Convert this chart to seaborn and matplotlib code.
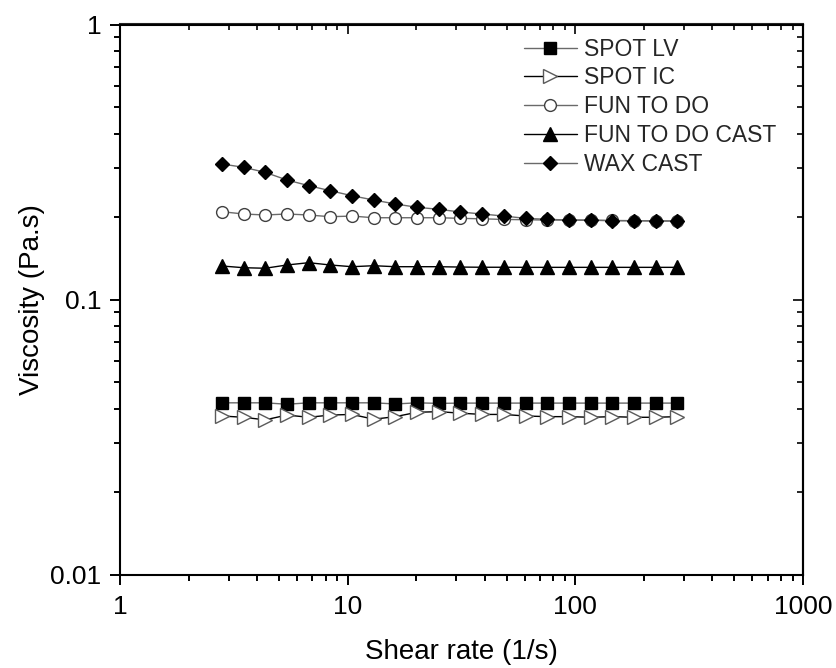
import matplotlib
matplotlib.use("Agg")
import matplotlib.pyplot as plt
import seaborn as sns
import pandas as pd
from matplotlib.ticker import NullFormatter, FixedLocator, LogLocator

# ---------------- data ----------------
shear_rate = [2.80, 3.49, 4.34, 5.41, 6.74, 8.39, 10.45, 13.01, 16.20, 20.18, 25.13,
              31.30, 38.98, 48.54, 60.45, 75.29, 93.77, 116.8, 145.4, 181.1, 225.5, 280.9]

spot_lv = [0.0421, 0.0421, 0.0421, 0.0416, 0.0421, 0.0421, 0.0421, 0.0421, 0.0417, 0.0421, 0.0419,
           0.0420, 0.0420, 0.0420, 0.0420, 0.0420, 0.0420, 0.0420, 0.0420, 0.0420, 0.0420, 0.0420]
spot_ic = [0.0377, 0.0373, 0.0365, 0.0380, 0.0373, 0.0380, 0.0382, 0.0367, 0.0375, 0.0389, 0.0391,
           0.0386, 0.0382, 0.0382, 0.0377, 0.0375, 0.0375, 0.0373, 0.0375, 0.0373, 0.0373, 0.0375]
fun_to_do = [0.2086, 0.2046, 0.2029, 0.2046, 0.2029, 0.2000, 0.2011, 0.1983, 0.1983, 0.1983, 0.1983,
             0.1973, 0.1965, 0.1955, 0.1950, 0.1945, 0.1945, 0.1940, 0.1938, 0.1935, 0.1932, 0.1930]
fun_to_do_cast = [0.1324, 0.1305, 0.1299, 0.1335, 0.1361, 0.1335, 0.1316, 0.1327, 0.1316, 0.1316, 0.1316,
                  0.1312, 0.1310, 0.1310, 0.1309, 0.1309, 0.1309, 0.1309, 0.1309, 0.1309, 0.1309, 0.1309]
wax_cast = [0.311, 0.3025, 0.290, 0.272, 0.2594, 0.2486, 0.2384, 0.2300, 0.2225, 0.2164, 0.2128,
            0.2080, 0.2046, 0.2011, 0.1973, 0.1957, 0.1945, 0.1945, 0.1934, 0.1934, 0.1929, 0.1929]

series_names = ["SPOT LV", "SPOT IC", "FUN TO DO", "FUN TO DO CAST", "WAX CAST"]
series_values = [spot_lv, spot_ic, fun_to_do, fun_to_do_cast, wax_cast]

x_ticks = [1, 10, 100, 1000]
x_tick_labels = ["1", "10", "100", "1000"]
y_ticks = [0.01, 0.1, 1]
y_tick_labels = ["0.01", "0.1", "1"]

# ---------------- style ----------------
sns.set_theme(style="ticks")
plt.rcParams["font.family"] = ["Liberation Sans", "DejaVu Sans"]

styles = {
    "SPOT LV":        dict(marker="s", markersize=8.0, markerfacecolor="black", markeredgecolor="black", color="#6a6a6a"),
    "SPOT IC":        dict(marker=">", markersize=9.5, markerfacecolor="white", markeredgecolor="#5a5a5a", color="black"),
    "FUN TO DO":      dict(marker="o", markersize=8.5, markerfacecolor="white", markeredgecolor="#404040", color="#6a6a6a"),
    "FUN TO DO CAST": dict(marker="^", markersize=9.5, markerfacecolor="black", markeredgecolor="black", color="black"),
    "WAX CAST":       dict(marker="D", markersize=7.0, markerfacecolor="black", markeredgecolor="black", color="#6a6a6a"),
}

fig = plt.figure(figsize=(8.37, 6.68), dpi=100)
ax = fig.add_axes([120 / 837, 1 - 574.5 / 668, 683 / 837, 550 / 668])

for name, vals in zip(series_names, series_values):
    df = pd.DataFrame({"x": shear_rate, "y": vals})
    sns.lineplot(data=df, x="x", y="y", ax=ax, estimator=None, sort=False,
                 linewidth=1.0, markeredgewidth=1.0, label=name, **styles[name])

ax.set_xscale("log")
ax.set_yscale("log")
ax.set_xlim(1, 1000)
ax.set_ylim(0.01, 1)

ax.xaxis.set_major_locator(FixedLocator(x_ticks))
ax.set_xticklabels(x_tick_labels)
ax.yaxis.set_major_locator(FixedLocator(y_ticks))
ax.set_yticklabels(y_tick_labels)
ax.xaxis.set_minor_locator(LogLocator(base=10, subs=range(2, 10), numticks=20))
ax.yaxis.set_minor_locator(LogLocator(base=10, subs=range(2, 10), numticks=20))
ax.xaxis.set_minor_formatter(NullFormatter())
ax.yaxis.set_minor_formatter(NullFormatter())

for s in ax.spines.values():
    s.set_visible(True)
    s.set_linewidth(1.5)
    s.set_color("black")

ax.tick_params(which="major", direction="out", length=7.5, width=1.4, color="black",
               labelsize=19, labelcolor="black")
ax.tick_params(which="minor", direction="out", length=4, width=1.4, color="black")
ax.tick_params(axis="x", which="major", pad=7)
ax.tick_params(axis="y", which="major", pad=6)

# top and right axes with inward ticks
secx = ax.secondary_xaxis("top")
secx.set_xticks(x_ticks)
secx.xaxis.set_minor_locator(LogLocator(base=10, subs=range(2, 10), numticks=20))
secx.tick_params(which="major", direction="in", length=7.5, width=1.4, labeltop=False)
secx.tick_params(which="minor", direction="in", length=4, width=1.4)
secx.xaxis.set_minor_formatter(NullFormatter())
secx.spines["top"].set_linewidth(1.5)

secy = ax.secondary_yaxis("right")
secy.set_yticks(y_ticks)
secy.yaxis.set_minor_locator(LogLocator(base=10, subs=range(2, 10), numticks=20))
secy.tick_params(which="major", direction="in", length=7.5, width=1.4, labelright=False)
secy.tick_params(which="minor", direction="in", length=4, width=1.4)
secy.yaxis.set_minor_formatter(NullFormatter())
secy.spines["right"].set_linewidth(1.5)

ax.set_xlabel("Shear rate (1/s)", fontsize=20, labelpad=15, color="black")
ax.set_ylabel("Viscosity (Pa.s)", fontsize=20, labelpad=4, color="black")

leg = ax.legend(loc="upper left", bbox_to_anchor=(0.5915, 0.976), frameon=False,
                fontsize=16.5, handlelength=2.3, handletextpad=0.3, labelspacing=0.25,
                borderpad=0, borderaxespad=0)

fig.savefig("out.png", dpi=100)
